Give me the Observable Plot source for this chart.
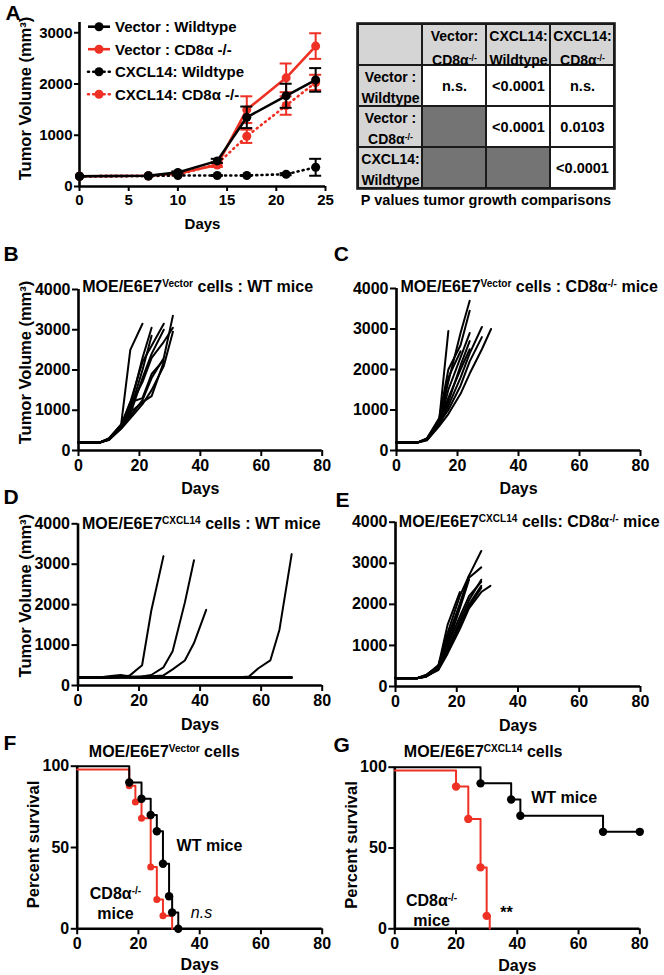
<!DOCTYPE html>
<html><head><meta charset="utf-8">
<script src="https://cdn.jsdelivr.net/npm/d3@7"></script>
<script src="https://cdn.jsdelivr.net/npm/@observablehq/plot@0.6"></script>
<style>
html,body{margin:0;padding:0;background:#fff;}
#fig{position:relative;width:664px;height:975px;overflow:hidden;background:#fff;}
</style></head><body><div id="fig"></div>
<script>
// ---------------- DATA ----------------
// Panel A: mean tumour volume
const aDays = [0, 7, 10, 14, 17, 21, 24];
const aSeries = ["Vector : Wildtype", "Vector : CD8α -/-", "CXCL14: Wildtype", "CXCL14: CD8α -/-"];
const aVecWT = [200, 210, 275, 500, 1350, 1770, 2080];
const aVecWTerr = [0, 0, 20, 40, 210, 235, 230];
const aVecCD8 = [200, 210, 255, 420, 1500, 2120, 2740];
const aVecCD8err = [0, 0, 20, 40, 260, 280, 250];
const aCxWT = [200, 205, 215, 215, 215, 240, 375];
const aCxWTerr = [0, 0, 0, 10, 10, 20, 165];
const aCxCD8 = [200, 205, 230, 440, 980, 1580, 2030];
const aCxCD8err = [0, 0, 15, 30, 130, 180, 150];

// P-value table
const tCols = ["", "Vector:\nCD8α^{-/-}", "CXCL14:\nWildtype", "CXCL14:\nCD8α^{-/-}"];
const tRows = ["", "Vector :\nWildtype", "Vector :\nCD8α^{-/-}", "CXCL14:\nWildtype"];
const tValues = [
  ["n.s.", "<0.0001", "n.s."],
  [null, "<0.0001", "0.0103"],
  [null, null, "<0.0001"]
];
const tCaption = "P values tumor growth comparisons";

// Panels B, C, E: individual mice (measurement days)
const growthDays = [0, 7, 10, 14, 17, 21, 24, 28, 31];
const bMice = [
  [200, 200, 300, 650, 2500, 3150],
  [200, 200, 290, 620, 1100, 2300, 3050],
  [200, 200, 280, 600, 1000, 2000, 2850],
  [200, 200, 300, 640, 1200, 2200, 2600, 3150],
  [200, 200, 270, 560, 900, 1800, 2400, 3000],
  [200, 200, 290, 600, 850, 1250, 1800, 2300, 3350],
  [200, 200, 280, 580, 1200, 1300, 1900, 2250],
  [200, 200, 260, 540, 800, 1150, 1500, 2100, 2950],
  [200, 200, 270, 560, 950, 1200, 1350, 2200],
  [200, 200, 280, 600, 1100, 1700, 2300, 2700, 3050]
];
const cMice = [
  [200, 200, 300, 750, 2950],
  [200, 200, 290, 720, 1800, 2450],
  [200, 200, 280, 700, 1700, 2900, 3700],
  [200, 200, 300, 800, 2000, 2600, 3450],
  [200, 200, 270, 650, 1500, 2300, 2900],
  [200, 200, 280, 700, 1300, 2000, 2500],
  [200, 200, 260, 620, 1100, 1800, 2400, 3050],
  [200, 200, 250, 600, 900, 1400, 1900, 2500, 3000],
  [200, 200, 270, 650, 1200, 2100, 2700],
  [200, 200, 280, 680, 1000, 1600, 2200, 2800]
];
const eMice = [
  [200, 200, 280, 500, 1500, 2300],
  [200, 200, 270, 520, 1200, 2000, 2700],
  [200, 200, 250, 450, 1000, 1900, 2600],
  [200, 200, 280, 500, 1300, 2200, 2700, 3300],
  [200, 200, 260, 480, 1100, 2000, 2650, 2900],
  [200, 200, 250, 430, 900, 1600, 2100, 2600],
  [200, 200, 240, 420, 850, 1500, 2000, 2450],
  [200, 200, 260, 450, 1000, 1700, 2200, 2550],
  [200, 200, 250, 400, 800, 1400, 1900, 2300, 2450],
  [200, 200, 240, 420, 900, 1500, 1950, 2400]
];
// Panel D: CXCL14 cells in WT mice
const dDays = [0, 7, 10, 14, 17, 21, 24, 28, 31, 35, 38, 42, 45, 49, 52, 56, 59, 63, 66, 70];
const dMice = [
  [200, 200, 200, 210, 250, 500, 1850, 3200],
  [200, 200, 200, 210, 210, 220, 260, 450, 850, 2050, 3100],
  [200, 200, 200, 210, 210, 220, 230, 250, 400, 620, 1050, 1870],
  [200, 200, 200, 200, 200, 200, 200, 200, 200, 200, 200, 200, 200, 200, 200, 220, 420, 620, 1380, 3250],
  [200, 200, 230, 260, 220, 200, 200, 200, 200, 200, 200, 200, 200, 200, 200, 200, 200, 200, 200, 200],
  [200, 200, 210, 220, 210, 200, 200, 200, 200, 200, 200, 200, 200, 200, 200, 200, 200, 200, 200, 200],
  [200, 200, 200, 210, 200, 200, 200, 200, 200, 200, 200, 200, 200, 200, 200, 200, 200, 200, 200, 200],
  [200, 200, 200, 200, 200, 200, 200, 200, 200, 200, 200, 200, 200, 200, 200, 200, 200, 200, 200, 200],
  [200, 200, 210, 210, 210, 210, 200, 200, 200, 200, 200, 200, 200, 200, 200, 200, 200, 200, 200, 200],
  [200, 200, 200, 200, 200, 200, 200, 200, 200, 200, 200, 200, 200, 200, 200, 200, 200, 200, 200, 200]
];

// Panels F, G: Kaplan–Meier survival (as drawn)
const fWTtime = [0, 17, 21, 24, 26, 28, 30, 31, 33];
const fWTsurv = [100, 90, 80, 70, 60, 40, 20, 10, 0];
const fCDtime = [0, 17, 19, 21, 24, 26, 28, 31];
const fCDsurv = [98, 88, 78, 68, 38, 18, 8, 0];
const gWTtime = [0, 28, 38, 41, 68, 80];
const gWTsurv = [100, 90, 80, 70, 60, 60];
const gCDtime = [0, 20, 24, 28, 30, 31];
const gCDsurv = [98, 88, 68, 38, 8, 0];

// ---------------- HELPERS ----------------
const FONT = '"Liberation Sans", Arial, Helvetica, sans-serif';
const BLACK = "#000000", RED = "#ee3124";
const fig = document.getElementById("fig");

function supify(root) {
  root.querySelectorAll("text, tspan").forEach(el => {
    if (el.children.length) return;
    const s = el.textContent;
    if (!s.includes("^{")) return;
    el.textContent = "";
    const re = /\^\{([^}]*)\}/g;
    let last = 0, m;
    while ((m = re.exec(s))) {
      if (m.index > last) el.appendChild(document.createTextNode(s.slice(last, m.index)));
      const t = document.createElementNS("http://www.w3.org/2000/svg", "tspan");
      t.setAttribute("font-size", "0.63em");
      t.setAttribute("baseline-shift", "0.5em");
      t.textContent = m[1];
      el.appendChild(t);
      last = re.lastIndex;
    }
    if (last < s.length) el.appendChild(document.createTextNode(s.slice(last)));
  });
}
function mount(svg, left, top) {
  svg.style.position = "absolute";
  svg.style.left = left + "px";
  svg.style.top = top + "px";
  fig.appendChild(svg);
  supify(svg);
  return svg;
}
const baseStyle = {fontFamily: FONT, fontWeight: "bold", background: "transparent", overflow: "visible", color: "#000"};
const fmt = d => String(d);
function axisMarks(xTicks, yTicks, fontSize, tickSize = 6) {
  return [
    Plot.axisX({ticks: xTicks, tickFormat: fmt, tickSize, tickPadding: 3, fontSize, strokeWidth: 2, label: null}),
    Plot.axisY({ticks: yTicks, tickFormat: fmt, tickSize, tickPadding: 2, fontSize, strokeWidth: 2, label: null}),
    Plot.ruleX([0], {strokeWidth: 2.6}),
    Plot.ruleY([0], {strokeWidth: 2.6})
  ];
}
function letterMark(ch, dx, dy) {
  return Plot.text([ch], {frameAnchor: "top-left", textAnchor: "start", lineAnchor: "middle", dx, dy, fontSize: 21});
}
function titleMark(t, dx, dy) {
  return Plot.text([t], {frameAnchor: "top-left", textAnchor: "start", lineAnchor: "middle", dx, dy, fontSize: 16});
}
function daysMark(dy) {
  return Plot.text(["Days"], {frameAnchor: "bottom", textAnchor: "middle", lineAnchor: "middle", dy, fontSize: 16});
}
function yLabelMark(t, dx, dy, fontSize = 16.5) {
  return Plot.text([t], {frameAnchor: "left", textAnchor: "middle", lineAnchor: "middle", dx, dy, rotate: -90, fontSize});
}

// ---------------- PANEL A ----------------
const aList = [
  {name: aSeries[0], v: aVecWT, e: aVecWTerr, color: BLACK, dotted: false},
  {name: aSeries[1], v: aVecCD8, e: aVecCD8err, color: RED, dotted: false},
  {name: aSeries[2], v: aCxWT, e: aCxWTerr, color: BLACK, dotted: true},
  {name: aSeries[3], v: aCxCD8, e: aCxCD8err, color: RED, dotted: true}
];
const aMarks = [];
for (const idx of [3, 1, 2, 0]) {
  const s = aList[idx];
  const rows = aDays.map((d, j) => ({day: d, v: s.v[j], e: s.e[j], lo: s.v[j] - s.e[j], hi: s.v[j] + s.e[j]}));
  const er = rows.filter(r => r.e > 0);
  aMarks.push(
    Plot.line(rows, {x: "day", y: "v", stroke: s.color, strokeWidth: 2.6,
      strokeDasharray: s.dotted ? "1,4.2" : null, strokeLinecap: s.dotted ? "round" : "butt"}),
    Plot.ruleX(er, {x: "day", y1: "lo", y2: "hi", stroke: s.color, strokeWidth: 2}),
    Plot.ruleY(er, {y: "hi", x1: "day", x2: "day", insetLeft: -6, insetRight: -6, stroke: s.color, strokeWidth: 2}),
    Plot.ruleY(er, {y: "lo", x1: "day", x2: "day", insetLeft: -6, insetRight: -6, stroke: s.color, strokeWidth: 2}),
    Plot.dot(rows, {x: "day", y: "v", fill: s.color, r: 4.5})
  );
}
const plotA = Plot.plot({
  width: 345, height: 240, marginLeft: 79, marginRight: 20, marginTop: 22, marginBottom: 54,
  style: baseStyle,
  x: {domain: [0, 25]}, y: {domain: [0, 3200]},
  marks: [
    ...axisMarks([0, 5, 10, 15, 20, 25], [0, 1000, 2000, 3000], 15, 5),
    ...aMarks,
    Plot.text(["Days"], {frameAnchor: "bottom", textAnchor: "middle", lineAnchor: "middle", dy: 38, fontSize: 15}),
    yLabelMark("Tumor Volume (mm³)", -54, -6),
    letterMark("A", -74, -9.5)
  ]
});
mount(plotA, 0, 0);
// legend
{
  const lg = d3.select(plotA).append("g").attr("font-size", 15).attr("font-family", FONT).attr("font-weight", "bold");
  aList.forEach((s, i) => {
    const y = 26.7 + i * 22.5;
    lg.append("line").attr("x1", 88).attr("x2", 110).attr("y1", y).attr("y2", y)
      .attr("stroke", s.color).attr("stroke-width", 2.6)
      .attr("stroke-dasharray", s.dotted ? "1,4.2" : null).attr("stroke-linecap", s.dotted ? "round" : null);
    lg.append("circle").attr("cx", 99).attr("cy", y).attr("r", 4.5).attr("fill", s.color);
    lg.append("text").attr("x", 115).attr("y", y).attr("dy", "0.36em").attr("text-anchor", "start").attr("fill", "#000").text(s.name);
  });
}

// ---------------- TABLE ----------------
const cells = [];
for (let r = 0; r < 4; r++) for (let c = 0; c < 4; c++) {
  let kind, label;
  if (r === 0) { kind = "head"; label = tCols[c]; }
  else if (c === 0) { kind = "head"; label = tRows[r]; }
  else { const v = tValues[r - 1][c - 1]; kind = v == null ? "blank" : "val"; label = v ?? ""; }
  cells.push({r, c, kind, label});
}
const plotT = Plot.plot({
  width: 334, height: 215, marginLeft: 27, marginRight: 50, marginTop: 23, marginBottom: 27,
  style: baseStyle,
  x: {type: "band", domain: [0, 1, 2, 3], padding: 0, axis: null},
  y: {type: "band", domain: [0, 1, 2, 3], padding: 0, axis: null},
  color: {type: "ordinal", domain: ["head", "blank", "val"], range: ["#d5d5d5", "#747474", "#ffffff"]},
  marks: [
    Plot.cell(cells, {x: "c", y: "r", fill: "kind", stroke: "#1a1a1a", strokeWidth: 2}),
    Plot.frame({stroke: "#1a1a1a", strokeWidth: 2.6}),
    Plot.text(cells.filter(d => d.r === 0), {x: "c", y: "r", text: "label", fontSize: 14, lineHeight: 1.7}),
    Plot.text(cells.filter(d => d.r > 0 && d.c === 0), {x: "c", y: "r", text: "label", fontSize: 14, lineHeight: 1.45}),
    Plot.text(cells.filter(d => d.r > 0 && d.c > 0), {x: "c", y: "r", text: "label", fontSize: 14.5}),
    Plot.text([tCaption], {frameAnchor: "bottom", textAnchor: "middle", lineAnchor: "middle", dy: 12, fontSize: 14.5})
  ]
});
mount(plotT, 330, 0);

// ---------------- B–E spaghetti ----------------
function spaghetti(o) {
  const rows = o.mice.flatMap((vals, m) => vals.map((v, i) => ({m, day: o.days[i], v})));
  const marks = [
    ...axisMarks([0, 20, 40, 60, 80], [0, 1000, 2000, 3000, 4000], 16),
    Plot.line(rows, {x: "day", y: "v", z: "m", stroke: BLACK, strokeWidth: 2, strokeLinejoin: "round"}),
    titleMark(o.title, o.tdx, o.tdy),
    daysMark(o.daysDy),
    letterMark(o.letter, o.ldx, o.ldy)
  ];
  if (o.ylabel) marks.push(yLabelMark("Tumor Volume (mm³)", o.ydx, o.ydy));
  const p = Plot.plot({
    width: o.width, height: 260, marginLeft: o.ml, marginRight: o.mr, marginTop: o.mt, marginBottom: o.mb,
    style: baseStyle, x: {domain: [0, 80]}, y: {domain: [0, 4000]}, marks
  });
  mount(p, o.left, o.top);
}
spaghetti({mice: bMice, days: growthDays, left: 0, top: 240, width: 345, ml: 78, mr: 23.3, mt: 49, mb: 50,
  title: "MOE/E6E7^{Vector} cells : WT mice", tdx: 3.7, tdy: -2.3, letter: "B", ldx: -75, ldy: -35,
  ylabel: true, ydx: -53, ydy: -7.5, daysDy: 38});
spaghetti({mice: cMice, days: growthDays, left: 330, top: 240, width: 334, ml: 66, mr: 24, mt: 48, mb: 50,
  title: "MOE/E6E7^{Vector} cells : CD8α^{-/-} mice", tdx: 4, tdy: -1.3, letter: "C", ldx: -62.7, ldy: -34,
  ylabel: false, daysDy: 38});
spaghetti({mice: dMice, days: dDays, left: 0, top: 475, width: 345, ml: 77.5, mr: 23.3, mt: 48.3, mb: 50,
  title: "MOE/E6E7^{CXCL14} cells : WT mice", tdx: 4, tdy: 0, letter: "D", ldx: -74.5, ldy: -26.3,
  ylabel: true, ydx: -52.5, ydy: -9, daysDy: 39});
spaghetti({mice: eMice, days: growthDays, left: 330, top: 475, width: 334, ml: 65, mr: 24, mt: 46.7, mb: 49,
  title: "MOE/E6E7^{CXCL14} cells: CD8α^{-/-} mice", tdx: 3.3, tdy: 0, letter: "E", ldx: -60, ldy: -21.7,
  ylabel: false, daysDy: 39});

// ---------------- F, G survival ----------------
function survival(o) {
  const wt = o.wtT.map((t, i) => ({t, s: o.wtS[i]}));
  const cd = o.cdT.map((t, i) => ({t, s: o.cdS[i]}));
  const wtDots = wt.slice(1);
  const cdDots = cd.slice(1).filter(d => d.s > 0);
  const p = Plot.plot({
    width: o.width, height: 255, marginLeft: o.ml, marginRight: o.mr, marginTop: o.mt, marginBottom: o.mb,
    style: baseStyle, x: {domain: [0, 80]}, y: {domain: [0, 100]},
    marks: [
      ...axisMarks([0, 20, 40, 60, 80], [0, 50, 100], 16),
      Plot.line(cd, {x: "t", y: "s", curve: "step-after", stroke: RED, strokeWidth: 2}),
      Plot.dot(cdDots, {x: "t", y: "s", fill: RED, r: o.cdR}),
      Plot.line(wt, {x: "t", y: "s", curve: "step-after", stroke: BLACK, strokeWidth: 2}),
      Plot.dot(wtDots, {x: "t", y: "s", fill: BLACK, r: 4.2}),
      titleMark(o.title, o.tdx, o.tdy),
      daysMark(o.daysDy),
      yLabelMark("Percent survival", o.ydx, -3),
      Plot.text(["WT mice"], {x: [o.wtLab[0]], y: [o.wtLab[1]], fontSize: 16}),
      Plot.text(["CD8α^{-/-}\nmice"], {x: [o.cdLab[0]], y: [o.cdLab[1]], fontSize: 16, lineHeight: 1.25}),
      Plot.text([o.sig], {x: [o.sigPos[0]], y: [o.sigPos[1]], fontSize: 16,
        fontStyle: o.sigItalic ? "italic" : "normal", fontWeight: o.sigItalic ? "normal" : "bold"}),
      letterMark(o.letter, o.ldx, o.ldy)
    ]
  });
  mount(p, o.left, o.top);
}
survival({wtT: fWTtime, wtS: fWTsurv, cdT: fCDtime, cdS: fCDsurv, cdR: 3.5,
  left: 0, top: 720, width: 345, ml: 76.7, mr: 23.3, mt: 45.7, mb: 46.7,
  title: "MOE/E6E7^{Vector} cells", tdx: 11.6, tdy: -14, letter: "F", ldx: -73.7, ldy: -23.2,
  ydx: -43.4, daysDy: 35.7, wtLab: [43.2, 51], cdLab: [12.5, 16], sig: "n.s", sigPos: [40.6, 10], sigItalic: true});
survival({wtT: gWTtime, wtS: gWTsurv, cdT: gCDtime, cdS: gCDsurv, cdR: 4.2,
  left: 330, top: 720, width: 334, ml: 64.3, mr: 24.7, mt: 46.7, mb: 46.7,
  title: "MOE/E6E7^{CXCL14} cells", tdx: 9, tdy: -15, letter: "G", ldx: -61.3, ldy: -21.7,
  ydx: -42.6, daysDy: 37, wtLab: [55.3, 80.8], cdLab: [12, 12], sig: "**", sigPos: [36.5, 10], sigItalic: false});
</script></body></html>
